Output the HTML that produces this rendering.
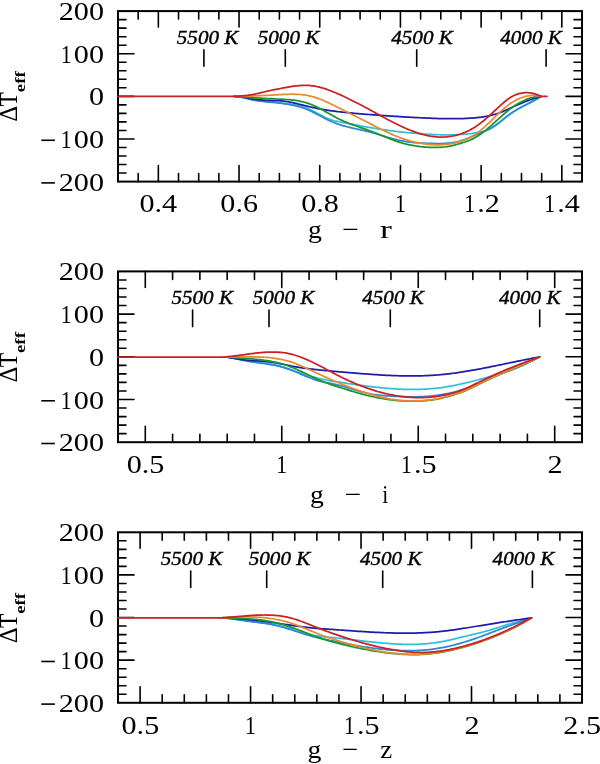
<!DOCTYPE html>
<html><head><meta charset="utf-8"><style>
html,body{margin:0;padding:0;background:#fff;}
svg{display:block;will-change:transform;}
text{fill:#000;}
</style></head><body>
<svg width="600" height="764" viewBox="0 0 600 764">
<rect width="600" height="764" fill="#fff"/>
<rect x="118.0" y="11.1" width="464.0" height="170.50" fill="none" stroke="#000" stroke-width="2.0"/>
<path d="M138.17,181.60v-8.0M138.17,11.10v8.0M158.35,181.60v-16.0M158.35,11.10v16.0M178.52,181.60v-8.0M178.52,11.10v8.0M198.70,181.60v-8.0M198.70,11.10v8.0M218.87,181.60v-8.0M218.87,11.10v8.0M239.04,181.60v-16.0M239.04,11.10v16.0M259.22,181.60v-8.0M259.22,11.10v8.0M279.39,181.60v-8.0M279.39,11.10v8.0M299.57,181.60v-8.0M299.57,11.10v8.0M319.74,181.60v-16.0M319.74,11.10v16.0M339.91,181.60v-8.0M339.91,11.10v8.0M360.09,181.60v-8.0M360.09,11.10v8.0M380.26,181.60v-8.0M380.26,11.10v8.0M400.43,181.60v-16.0M400.43,11.10v16.0M420.61,181.60v-8.0M420.61,11.10v8.0M440.78,181.60v-8.0M440.78,11.10v8.0M460.96,181.60v-8.0M460.96,11.10v8.0M481.13,181.60v-16.0M481.13,11.10v16.0M501.30,181.60v-8.0M501.30,11.10v8.0M521.48,181.60v-8.0M521.48,11.10v8.0M541.65,181.60v-8.0M541.65,11.10v8.0M561.83,181.60v-16.0M561.83,11.10v16.0M118.00,173.07h8.0M582.00,173.07h-8.0M118.00,164.55h8.0M582.00,164.55h-8.0M118.00,156.03h8.0M582.00,156.03h-8.0M118.00,147.50h8.0M582.00,147.50h-8.0M118.00,138.97h16.0M582.00,138.97h-16.0M118.00,130.45h8.0M582.00,130.45h-8.0M118.00,121.92h8.0M582.00,121.92h-8.0M118.00,113.40h8.0M582.00,113.40h-8.0M118.00,104.87h8.0M582.00,104.87h-8.0M118.00,96.35h16.0M582.00,96.35h-16.0M118.00,87.82h8.0M582.00,87.82h-8.0M118.00,79.30h8.0M582.00,79.30h-8.0M118.00,70.77h8.0M582.00,70.77h-8.0M118.00,62.25h8.0M582.00,62.25h-8.0M118.00,53.72h16.0M582.00,53.72h-16.0M118.00,45.20h8.0M582.00,45.20h-8.0M118.00,36.68h8.0M582.00,36.68h-8.0M118.00,28.15h8.0M582.00,28.15h-8.0M118.00,19.62h8.0M582.00,19.62h-8.0" stroke="#000" stroke-width="1.6" stroke-linecap="round" fill="none"/>
<rect x="118.0" y="271.4" width="464.0" height="170.80" fill="none" stroke="#000" stroke-width="2.0"/>
<path d="M145.29,442.20v-16.0M145.29,271.40v16.0M172.59,442.20v-8.0M172.59,271.40v8.0M199.88,442.20v-8.0M199.88,271.40v8.0M227.18,442.20v-8.0M227.18,271.40v8.0M254.47,442.20v-8.0M254.47,271.40v8.0M281.76,442.20v-16.0M281.76,271.40v16.0M309.06,442.20v-8.0M309.06,271.40v8.0M336.35,442.20v-8.0M336.35,271.40v8.0M363.65,442.20v-8.0M363.65,271.40v8.0M390.94,442.20v-8.0M390.94,271.40v8.0M418.24,442.20v-16.0M418.24,271.40v16.0M445.53,442.20v-8.0M445.53,271.40v8.0M472.82,442.20v-8.0M472.82,271.40v8.0M500.12,442.20v-8.0M500.12,271.40v8.0M527.41,442.20v-8.0M527.41,271.40v8.0M554.71,442.20v-16.0M554.71,271.40v16.0M118.00,433.66h8.0M582.00,433.66h-8.0M118.00,425.12h8.0M582.00,425.12h-8.0M118.00,416.58h8.0M582.00,416.58h-8.0M118.00,408.04h8.0M582.00,408.04h-8.0M118.00,399.50h16.0M582.00,399.50h-16.0M118.00,390.96h8.0M582.00,390.96h-8.0M118.00,382.42h8.0M582.00,382.42h-8.0M118.00,373.88h8.0M582.00,373.88h-8.0M118.00,365.34h8.0M582.00,365.34h-8.0M118.00,356.80h16.0M582.00,356.80h-16.0M118.00,348.26h8.0M582.00,348.26h-8.0M118.00,339.72h8.0M582.00,339.72h-8.0M118.00,331.18h8.0M582.00,331.18h-8.0M118.00,322.64h8.0M582.00,322.64h-8.0M118.00,314.10h16.0M582.00,314.10h-16.0M118.00,305.56h8.0M582.00,305.56h-8.0M118.00,297.02h8.0M582.00,297.02h-8.0M118.00,288.48h8.0M582.00,288.48h-8.0M118.00,279.94h8.0M582.00,279.94h-8.0" stroke="#000" stroke-width="1.6" stroke-linecap="round" fill="none"/>
<rect x="118.0" y="532.3" width="464.0" height="170.50" fill="none" stroke="#000" stroke-width="2.0"/>
<path d="M140.10,702.80v-16.0M140.10,532.30v16.0M162.19,702.80v-8.0M162.19,532.30v8.0M184.29,702.80v-8.0M184.29,532.30v8.0M206.38,702.80v-8.0M206.38,532.30v8.0M228.48,702.80v-8.0M228.48,532.30v8.0M250.57,702.80v-16.0M250.57,532.30v16.0M272.67,702.80v-8.0M272.67,532.30v8.0M294.76,702.80v-8.0M294.76,532.30v8.0M316.86,702.80v-8.0M316.86,532.30v8.0M338.95,702.80v-8.0M338.95,532.30v8.0M361.05,702.80v-16.0M361.05,532.30v16.0M383.14,702.80v-8.0M383.14,532.30v8.0M405.24,702.80v-8.0M405.24,532.30v8.0M427.33,702.80v-8.0M427.33,532.30v8.0M449.43,702.80v-8.0M449.43,532.30v8.0M471.52,702.80v-16.0M471.52,532.30v16.0M493.62,702.80v-8.0M493.62,532.30v8.0M515.71,702.80v-8.0M515.71,532.30v8.0M537.81,702.80v-8.0M537.81,532.30v8.0M559.90,702.80v-8.0M559.90,532.30v8.0M118.00,694.27h8.0M582.00,694.27h-8.0M118.00,685.75h8.0M582.00,685.75h-8.0M118.00,677.22h8.0M582.00,677.22h-8.0M118.00,668.70h8.0M582.00,668.70h-8.0M118.00,660.17h16.0M582.00,660.17h-16.0M118.00,651.65h8.0M582.00,651.65h-8.0M118.00,643.12h8.0M582.00,643.12h-8.0M118.00,634.60h8.0M582.00,634.60h-8.0M118.00,626.07h8.0M582.00,626.07h-8.0M118.00,617.55h16.0M582.00,617.55h-16.0M118.00,609.02h8.0M582.00,609.02h-8.0M118.00,600.50h8.0M582.00,600.50h-8.0M118.00,591.97h8.0M582.00,591.97h-8.0M118.00,583.45h8.0M582.00,583.45h-8.0M118.00,574.92h16.0M582.00,574.92h-16.0M118.00,566.40h8.0M582.00,566.40h-8.0M118.00,557.88h8.0M582.00,557.88h-8.0M118.00,549.35h8.0M582.00,549.35h-8.0M118.00,540.82h8.0M582.00,540.82h-8.0" stroke="#000" stroke-width="1.6" stroke-linecap="round" fill="none"/>
<text transform="translate(58.73,20.15) scale(1.170,1)" font-family='"Liberation Serif",serif' font-size="25.80">200</text>
<g transform="translate(58.73,62.77) scale(1.170,1)" font-family='"Liberation Serif",serif' font-size="25.80"><text transform="translate(6.45,0) scale(0.72,1) translate(-6.45,0)">1</text><text x="12.90">0</text><text x="25.80">0</text></g>
<text transform="translate(88.91,105.40) scale(1.170,1)" font-family='"Liberation Serif",serif' font-size="25.80">0</text>
<g transform="translate(58.73,148.02) scale(1.170,1)" font-family='"Liberation Serif",serif' font-size="25.80"><text transform="translate(6.45,0) scale(0.72,1) translate(-6.45,0)">1</text><text x="12.90">0</text><text x="25.80">0</text></g>
<path d="M41.3,140.28H54.9" stroke="#000" stroke-width="1.6"/>
<text transform="translate(58.73,190.65) scale(1.170,1)" font-family='"Liberation Serif",serif' font-size="25.80">200</text>
<path d="M41.3,182.90H54.9" stroke="#000" stroke-width="1.6"/>
<text transform="translate(139.40,212.26) scale(1.170,1)" font-family='"Liberation Serif",serif' font-size="25.80">0.4</text>
<text transform="translate(220.33,212.26) scale(1.170,1)" font-family='"Liberation Serif",serif' font-size="25.80">0.6</text>
<text transform="translate(301.17,212.26) scale(1.170,1)" font-family='"Liberation Serif",serif' font-size="25.80">0.8</text>
<g transform="translate(392.81,212.13) scale(1.170,1)" font-family='"Liberation Serif",serif' font-size="25.80"><text transform="translate(6.45,0) scale(0.72,1) translate(-6.45,0)">1</text></g>
<g transform="translate(462.11,212.13) scale(1.170,1)" font-family='"Liberation Serif",serif' font-size="25.80"><text transform="translate(6.45,0) scale(0.72,1) translate(-6.45,0)">1</text><text x="12.90">.</text><text x="19.35">2</text></g>
<g transform="translate(542.20,212.13) scale(1.170,1)" font-family='"Liberation Serif",serif' font-size="25.80"><text transform="translate(6.45,0) scale(0.72,1) translate(-6.45,0)">1</text><text x="12.90">.</text><text x="19.35">4</text></g>
<text transform="translate(307.95,237.50) scale(1.070,1)" font-family='"Liberation Serif",serif' font-size="26.00">g</text>
<text transform="translate(342.22,237.50) scale(1.141,1)" font-family='"Liberation Serif",serif' font-size="26.00">−</text>
<text transform="translate(380.09,237.50) scale(1.375,1)" font-family='"Liberation Serif",serif' font-size="26.00">r</text>
<text transform="translate(17.30,121.70) rotate(-90) scale(1.010,1)" font-family='"Liberation Serif",serif' font-size="24.70">Δ</text>
<text transform="translate(17.30,106.47) rotate(-90) scale(0.943,1)" font-family='"Liberation Serif",serif' font-size="24.89">T</text>
<text transform="translate(24.75,92.16) rotate(-90) scale(1.222,1)" font-family='"Liberation Serif",serif' font-size="15.38" font-weight="bold">eff</text>
<text transform="translate(176.78,43.60) scale(1.065,1)" font-family='"Liberation Serif",serif' font-size="19.85" font-style="italic" stroke="#000" stroke-width="0.4">5500 K</text>
<path d="M203.90,49.80V66.30" stroke="#000" stroke-width="1.6" stroke-linecap="round"/>
<text transform="translate(257.68,43.60) scale(1.065,1)" font-family='"Liberation Serif",serif' font-size="19.85" font-style="italic" stroke="#000" stroke-width="0.4">5000 K</text>
<path d="M285.30,49.80V66.30" stroke="#000" stroke-width="1.6" stroke-linecap="round"/>
<text transform="translate(391.19,43.60) scale(1.065,1)" font-family='"Liberation Serif",serif' font-size="19.85" font-style="italic" stroke="#000" stroke-width="0.4">4500 K</text>
<path d="M416.70,49.80V66.30" stroke="#000" stroke-width="1.6" stroke-linecap="round"/>
<text transform="translate(500.19,43.60) scale(1.065,1)" font-family='"Liberation Serif",serif' font-size="19.85" font-style="italic" stroke="#000" stroke-width="0.4">4000 K</text>
<path d="M546.10,49.80V66.30" stroke="#000" stroke-width="1.6" stroke-linecap="round"/>
<path d="M234.0,96.35 235.5,96.35 237.0,96.58 238.5,96.72 240.0,96.91 241.5,97.14 243.0,97.41 244.5,97.73 246.0,98.11 247.5,98.52 249.0,98.92 250.5,99.30 252.0,99.62 253.5,99.90 255.0,100.13 256.5,100.33 258.0,100.50 259.5,100.64 261.0,100.77 262.5,100.88 264.0,100.99 265.5,101.10 267.0,101.21 268.5,101.34 270.0,101.48 271.5,101.65 273.0,101.84 274.5,102.04 276.0,102.25 277.5,102.46 279.0,102.68 280.5,102.89 282.0,103.10 283.5,103.30 285.0,103.51 286.5,103.71 288.0,103.92 289.5,104.15 291.0,104.38 292.5,104.63 294.0,104.89 295.5,105.18 297.0,105.49 298.5,105.83 300.0,106.19 301.5,106.59 303.0,107.02 304.5,107.50 306.0,108.01 307.5,108.57 309.0,109.17 310.5,109.83 312.0,110.53 313.5,111.27 315.0,112.05 316.5,112.84 318.0,113.65 319.5,114.46 321.0,115.26 322.5,116.05 324.0,116.81 325.5,117.54 327.0,118.22 328.5,118.85 330.0,119.42 331.5,119.92 333.0,120.36 334.5,120.75 336.0,121.09 337.5,121.41 339.0,121.72 340.5,122.01 342.0,122.30 343.5,122.60 345.0,122.89 346.5,123.18 348.0,123.47 349.5,123.76 351.0,124.05 352.5,124.34 354.0,124.63 355.5,124.91 357.0,125.19 358.5,125.47 360.0,125.75 361.5,126.02 363.0,126.29 364.5,126.56 366.0,126.83 367.5,127.09 369.0,127.35 370.5,127.61 372.0,127.86 373.5,128.10 375.0,128.35 376.5,128.59 378.0,128.82 379.5,129.05 381.0,129.28 382.5,129.51 384.0,129.73 385.5,129.94 387.0,130.15 388.5,130.36 390.0,130.56 391.5,130.76 393.0,130.96 394.5,131.15 396.0,131.33 397.5,131.51 399.0,131.69 400.5,131.86 402.0,132.03 403.5,132.20 405.0,132.36 406.5,132.51 408.0,132.67 409.5,132.81 411.0,132.95 412.5,133.09 414.0,133.23 415.5,133.35 417.0,133.48 418.5,133.60 420.0,133.71 421.5,133.82 423.0,133.93 424.5,134.03 426.0,134.12 427.5,134.21 429.0,134.30 430.5,134.38 432.0,134.46 433.5,134.53 435.0,134.60 436.5,134.66 438.0,134.71 439.5,134.75 441.0,134.79 442.5,134.83 444.0,134.85 445.5,134.86 447.0,134.87 448.5,134.87 450.0,134.86 451.5,134.84 453.0,134.80 454.5,134.76 456.0,134.71 457.5,134.65 459.0,134.57 460.5,134.48 462.0,134.38 463.5,134.27 465.0,134.15 466.5,134.01 468.0,133.86 469.5,133.69 471.0,133.51 472.5,133.31 474.0,133.10 475.5,132.87 477.0,132.63 478.5,132.37 480.0,132.10 481.5,131.80 483.0,131.47 484.5,131.09 486.0,130.64 487.5,130.11 489.0,129.47 490.5,128.72 492.0,127.84 493.5,126.86 495.0,125.81 496.5,124.69 498.0,123.53 499.5,122.33 501.0,121.11 502.5,119.87 504.0,118.64 505.5,117.42 507.0,116.23 508.5,115.07 510.0,113.95 511.5,112.90 513.0,111.90 514.5,110.94 516.0,110.03 517.5,109.16 519.0,108.32 520.5,107.51 522.0,106.72 523.5,105.95 525.0,105.19 526.5,104.43 528.0,103.68 529.5,102.92 531.0,102.15 532.5,101.37 534.0,100.57 535.5,99.74 537.0,98.88 538.5,97.99 540.0,97.05 541.0,96.40" fill="none" stroke="#34c0d8" stroke-width="1.75" stroke-linejoin="round" stroke-linecap="round"/>
<path d="M234.0,96.35 235.5,96.35 237.0,96.62 238.5,96.79 240.0,96.99 241.5,97.22 243.0,97.50 244.5,97.82 246.0,98.18 247.5,98.58 249.0,98.98 250.5,99.36 252.0,99.71 253.5,100.03 255.0,100.32 256.5,100.58 258.0,100.83 259.5,101.05 261.0,101.25 262.5,101.44 264.0,101.61 265.5,101.77 267.0,101.92 268.5,102.06 270.0,102.20 271.5,102.34 273.0,102.47 274.5,102.61 276.0,102.75 277.5,102.89 279.0,103.05 280.5,103.21 282.0,103.39 283.5,103.58 285.0,103.79 286.5,104.01 288.0,104.26 289.5,104.52 291.0,104.80 292.5,105.10 294.0,105.43 295.5,105.78 297.0,106.15 298.5,106.56 300.0,106.99 301.5,107.45 303.0,107.94 304.5,108.47 306.0,109.03 307.5,109.62 309.0,110.25 310.5,110.92 312.0,111.62 313.5,112.36 315.0,113.11 316.5,113.89 318.0,114.69 319.5,115.49 321.0,116.29 322.5,117.10 324.0,117.89 325.5,118.67 327.0,119.43 328.5,120.17 330.0,120.87 331.5,121.54 333.0,122.18 334.5,122.78 336.0,123.35 337.5,123.89 339.0,124.41 340.5,124.89 342.0,125.36 343.5,125.79 345.0,126.21 346.5,126.61 348.0,126.99 349.5,127.36 351.0,127.72 352.5,128.07 354.0,128.40 355.5,128.73 357.0,129.06 358.5,129.39 360.0,129.72 361.5,130.04 363.0,130.38 364.5,130.72 366.0,131.06 367.5,131.42 369.0,131.80 370.5,132.18 372.0,132.59 373.5,133.00 375.0,133.43 376.5,133.87 378.0,134.31 379.5,134.76 381.0,135.22 382.5,135.67 384.0,136.13 385.5,136.58 387.0,137.03 388.5,137.47 390.0,137.91 391.5,138.33 393.0,138.75 394.5,139.14 396.0,139.52 397.5,139.89 399.0,140.23 400.5,140.55 402.0,140.85 403.5,141.12 405.0,141.38 406.5,141.61 408.0,141.82 409.5,142.02 411.0,142.20 412.5,142.36 414.0,142.51 415.5,142.64 417.0,142.76 418.5,142.87 420.0,142.97 421.5,143.05 423.0,143.13 424.5,143.20 426.0,143.26 427.5,143.32 429.0,143.37 430.5,143.41 432.0,143.46 433.5,143.49 435.0,143.52 436.5,143.54 438.0,143.54 439.5,143.54 441.0,143.51 442.5,143.47 444.0,143.41 445.5,143.33 447.0,143.22 448.5,143.08 450.0,142.92 451.5,142.73 453.0,142.51 454.5,142.25 456.0,141.96 457.5,141.63 459.0,141.26 460.5,140.85 462.0,140.39 463.5,139.90 465.0,139.38 466.5,138.82 468.0,138.24 469.5,137.63 471.0,137.01 472.5,136.37 474.0,135.72 475.5,135.06 477.0,134.40 478.5,133.74 480.0,133.08 481.5,132.43 483.0,131.78 484.5,131.12 486.0,130.44 487.5,129.74 489.0,129.00 490.5,128.22 492.0,127.40 493.5,126.52 495.0,125.57 496.5,124.55 498.0,123.47 499.5,122.34 501.0,121.17 502.5,119.99 504.0,118.79 505.5,117.60 507.0,116.42 508.5,115.27 510.0,114.16 511.5,113.10 513.0,112.10 514.5,111.13 516.0,110.21 517.5,109.32 519.0,108.46 520.5,107.63 522.0,106.82 523.5,106.03 525.0,105.25 526.5,104.47 528.0,103.70 529.5,102.92 531.0,102.14 532.5,101.35 534.0,100.54 535.5,99.71 537.0,98.85 538.5,97.96 540.0,97.04 541.0,96.40" fill="none" stroke="#2a8ad4" stroke-width="1.75" stroke-linejoin="round" stroke-linecap="round"/>
<path d="M234.0,96.35 235.5,96.35 237.0,96.55 238.5,96.69 240.0,96.86 241.5,97.04 243.0,97.26 244.5,97.49 246.0,97.75 247.5,98.02 249.0,98.29 250.5,98.56 252.0,98.80 253.5,99.03 255.0,99.25 256.5,99.44 258.0,99.62 259.5,99.78 261.0,99.93 262.5,100.06 264.0,100.17 265.5,100.26 267.0,100.34 268.5,100.41 270.0,100.45 271.5,100.48 273.0,100.51 274.5,100.53 276.0,100.56 277.5,100.61 279.0,100.67 280.5,100.77 282.0,100.91 283.5,101.08 285.0,101.27 286.5,101.50 288.0,101.75 289.5,102.03 291.0,102.32 292.5,102.64 294.0,102.97 295.5,103.31 297.0,103.67 298.5,104.04 300.0,104.41 301.5,104.78 303.0,105.16 304.5,105.54 306.0,105.91 307.5,106.28 309.0,106.64 310.5,106.99 312.0,107.33 313.5,107.65 315.0,107.97 316.5,108.27 318.0,108.57 319.5,108.85 321.0,109.12 322.5,109.39 324.0,109.64 325.5,109.89 327.0,110.12 328.5,110.35 330.0,110.57 331.5,110.79 333.0,110.99 334.5,111.19 336.0,111.38 337.5,111.57 339.0,111.75 340.5,111.92 342.0,112.09 343.5,112.25 345.0,112.41 346.5,112.56 348.0,112.71 349.5,112.85 351.0,112.99 352.5,113.13 354.0,113.26 355.5,113.40 357.0,113.53 358.5,113.65 360.0,113.78 361.5,113.90 363.0,114.03 364.5,114.15 366.0,114.27 367.5,114.39 369.0,114.50 370.5,114.62 372.0,114.73 373.5,114.85 375.0,114.96 376.5,115.07 378.0,115.18 379.5,115.29 381.0,115.39 382.5,115.50 384.0,115.60 385.5,115.71 387.0,115.81 388.5,115.91 390.0,116.01 391.5,116.11 393.0,116.20 394.5,116.30 396.0,116.39 397.5,116.49 399.0,116.58 400.5,116.67 402.0,116.76 403.5,116.85 405.0,116.93 406.5,117.02 408.0,117.11 409.5,117.19 411.0,117.27 412.5,117.35 414.0,117.44 415.5,117.51 417.0,117.59 418.5,117.67 420.0,117.75 421.5,117.82 423.0,117.90 424.5,117.97 426.0,118.04 427.5,118.11 429.0,118.17 430.5,118.24 432.0,118.30 433.5,118.36 435.0,118.41 436.5,118.46 438.0,118.51 439.5,118.56 441.0,118.60 442.5,118.63 444.0,118.66 445.5,118.69 447.0,118.71 448.5,118.72 450.0,118.73 451.5,118.74 453.0,118.73 454.5,118.72 456.0,118.71 457.5,118.69 459.0,118.66 460.5,118.62 462.0,118.57 463.5,118.52 465.0,118.46 466.5,118.39 468.0,118.32 469.5,118.23 471.0,118.13 472.5,118.03 474.0,117.91 475.5,117.78 477.0,117.64 478.5,117.48 480.0,117.30 481.5,117.11 483.0,116.89 484.5,116.65 486.0,116.40 487.5,116.11 489.0,115.80 490.5,115.47 492.0,115.10 493.5,114.71 495.0,114.28 496.5,113.82 498.0,113.33 499.5,112.80 501.0,112.24 502.5,111.64 504.0,111.01 505.5,110.36 507.0,109.69 508.5,109.00 510.0,108.31 511.5,107.61 513.0,106.91 514.5,106.22 516.0,105.54 517.5,104.87 519.0,104.22 520.5,103.58 522.0,102.95 523.5,102.34 525.0,101.74 526.5,101.16 528.0,100.59 529.5,100.04 531.0,99.51 532.5,98.99 534.0,98.49 535.5,98.01 537.0,97.55 538.5,97.10 540.0,96.68 541.0,96.40" fill="none" stroke="#1e1cae" stroke-width="1.75" stroke-linejoin="round" stroke-linecap="round"/>
<path d="M234.0,96.35 235.5,96.35 237.0,96.53 238.5,96.62 240.0,96.72 241.5,96.83 243.0,96.95 244.5,97.07 246.0,97.19 247.5,97.31 249.0,97.43 250.5,97.54 252.0,97.65 253.5,97.76 255.0,97.85 256.5,97.95 258.0,98.04 259.5,98.12 261.0,98.20 262.5,98.28 264.0,98.36 265.5,98.43 267.0,98.50 268.5,98.57 270.0,98.64 271.5,98.71 273.0,98.78 274.5,98.85 276.0,98.93 277.5,99.00 279.0,99.07 280.5,99.15 282.0,99.22 283.5,99.31 285.0,99.40 286.5,99.50 288.0,99.61 289.5,99.74 291.0,99.88 292.5,100.04 294.0,100.23 295.5,100.43 297.0,100.66 298.5,100.92 300.0,101.20 301.5,101.52 303.0,101.87 304.5,102.26 306.0,102.69 307.5,103.16 309.0,103.67 310.5,104.22 312.0,104.82 313.5,105.46 315.0,106.14 316.5,106.85 318.0,107.60 319.5,108.36 321.0,109.15 322.5,109.96 324.0,110.78 325.5,111.62 327.0,112.46 328.5,113.30 330.0,114.14 331.5,114.98 333.0,115.81 334.5,116.63 336.0,117.43 337.5,118.21 339.0,118.97 340.5,119.70 342.0,120.40 343.5,121.07 345.0,121.72 346.5,122.34 348.0,122.95 349.5,123.53 351.0,124.10 352.5,124.66 354.0,125.20 355.5,125.74 357.0,126.26 358.5,126.79 360.0,127.31 361.5,127.82 363.0,128.34 364.5,128.87 366.0,129.40 367.5,129.94 369.0,130.49 370.5,131.05 372.0,131.63 373.5,132.21 375.0,132.81 376.5,133.42 378.0,134.03 379.5,134.64 381.0,135.26 382.5,135.87 384.0,136.49 385.5,137.10 387.0,137.71 388.5,138.30 390.0,138.89 391.5,139.47 393.0,140.03 394.5,140.58 396.0,141.11 397.5,141.62 399.0,142.11 400.5,142.58 402.0,143.02 403.5,143.44 405.0,143.83 406.5,144.20 408.0,144.55 409.5,144.88 411.0,145.19 412.5,145.47 414.0,145.73 415.5,145.98 417.0,146.20 418.5,146.40 420.0,146.59 421.5,146.75 423.0,146.90 424.5,147.03 426.0,147.14 427.5,147.23 429.0,147.31 430.5,147.37 432.0,147.42 433.5,147.44 435.0,147.45 436.5,147.44 438.0,147.40 439.5,147.34 441.0,147.26 442.5,147.14 444.0,147.00 445.5,146.83 447.0,146.62 448.5,146.39 450.0,146.11 451.5,145.80 453.0,145.46 454.5,145.09 456.0,144.70 457.5,144.28 459.0,143.85 460.5,143.40 462.0,142.94 463.5,142.46 465.0,141.96 466.5,141.42 468.0,140.86 469.5,140.25 471.0,139.60 472.5,138.90 474.0,138.14 475.5,137.32 477.0,136.44 478.5,135.49 480.0,134.49 481.5,133.42 483.0,132.31 484.5,131.14 486.0,129.93 487.5,128.69 489.0,127.41 490.5,126.11 492.0,124.78 493.5,123.44 495.0,122.09 496.5,120.73 498.0,119.37 499.5,118.02 501.0,116.67 502.5,115.34 504.0,114.03 505.5,112.75 507.0,111.49 508.5,110.28 510.0,109.10 511.5,107.97 513.0,106.89 514.5,105.85 516.0,104.86 517.5,103.92 519.0,103.04 520.5,102.20 522.0,101.42 523.5,100.69 525.0,100.02 526.5,99.40 528.0,98.83 529.5,98.32 531.0,97.87 532.5,97.48 534.0,97.15 535.5,96.87 537.0,96.66 538.5,96.51 540.0,96.43 541.0,96.40" fill="none" stroke="#1a9630" stroke-width="1.75" stroke-linejoin="round" stroke-linecap="round"/>
<path d="M234.0,96.35 235.5,96.35 237.0,96.33 238.5,96.32 240.0,96.30 241.5,96.28 243.0,96.25 244.5,96.22 246.0,96.19 247.5,96.15 249.0,96.11 250.5,96.07 252.0,96.02 253.5,95.96 255.0,95.91 256.5,95.84 258.0,95.78 259.5,95.71 261.0,95.64 262.5,95.57 264.0,95.49 265.5,95.42 267.0,95.34 268.5,95.26 270.0,95.18 271.5,95.09 273.0,95.01 274.5,94.93 276.0,94.85 277.5,94.77 279.0,94.69 280.5,94.61 282.0,94.53 283.5,94.46 285.0,94.39 286.5,94.33 288.0,94.29 289.5,94.25 291.0,94.23 292.5,94.22 294.0,94.23 295.5,94.26 297.0,94.32 298.5,94.40 300.0,94.50 301.5,94.63 303.0,94.80 304.5,94.99 306.0,95.22 307.5,95.49 309.0,95.79 310.5,96.13 312.0,96.52 313.5,96.94 315.0,97.40 316.5,97.89 318.0,98.42 319.5,98.97 321.0,99.56 322.5,100.17 324.0,100.80 325.5,101.46 327.0,102.14 328.5,102.83 330.0,103.54 331.5,104.26 333.0,104.99 334.5,105.73 336.0,106.48 337.5,107.23 339.0,107.99 340.5,108.74 342.0,109.50 343.5,110.25 345.0,111.01 346.5,111.76 348.0,112.51 349.5,113.27 351.0,114.02 352.5,114.77 354.0,115.52 355.5,116.28 357.0,117.03 358.5,117.78 360.0,118.54 361.5,119.30 363.0,120.05 364.5,120.81 366.0,121.57 367.5,122.33 369.0,123.09 370.5,123.86 372.0,124.63 373.5,125.39 375.0,126.16 376.5,126.92 378.0,127.68 379.5,128.43 381.0,129.18 382.5,129.93 384.0,130.66 385.5,131.39 387.0,132.10 388.5,132.80 390.0,133.49 391.5,134.17 393.0,134.83 394.5,135.47 396.0,136.10 397.5,136.70 399.0,137.29 400.5,137.85 402.0,138.40 403.5,138.92 405.0,139.41 406.5,139.89 408.0,140.35 409.5,140.78 411.0,141.19 412.5,141.58 414.0,141.94 415.5,142.29 417.0,142.61 418.5,142.91 420.0,143.19 421.5,143.45 423.0,143.68 424.5,143.90 426.0,144.09 427.5,144.26 429.0,144.41 430.5,144.54 432.0,144.65 433.5,144.74 435.0,144.80 436.5,144.83 438.0,144.85 439.5,144.83 441.0,144.79 442.5,144.72 444.0,144.63 445.5,144.50 447.0,144.34 448.5,144.15 450.0,143.93 451.5,143.68 453.0,143.39 454.5,143.07 456.0,142.71 457.5,142.32 459.0,141.88 460.5,141.41 462.0,140.90 463.5,140.35 465.0,139.76 466.5,139.11 468.0,138.42 469.5,137.68 471.0,136.89 472.5,136.04 474.0,135.13 475.5,134.16 477.0,133.14 478.5,132.04 480.0,130.88 481.5,129.66 483.0,128.37 484.5,127.03 486.0,125.65 487.5,124.23 489.0,122.79 490.5,121.32 492.0,119.85 493.5,118.37 495.0,116.90 496.5,115.44 498.0,114.00 499.5,112.59 501.0,111.21 502.5,109.86 504.0,108.55 505.5,107.29 507.0,106.07 508.5,104.92 510.0,103.82 511.5,102.79 513.0,101.83 514.5,100.93 516.0,100.10 517.5,99.34 519.0,98.65 520.5,98.02 522.0,97.46 523.5,96.97 525.0,96.55 526.5,96.20 528.0,95.92 529.5,95.70 531.0,95.56 532.5,95.49 534.0,95.48 535.5,95.55 537.0,95.69 538.5,95.90 540.0,96.18 541.0,96.40" fill="none" stroke="#e88a32" stroke-width="1.75" stroke-linejoin="round" stroke-linecap="round"/>
<path d="M118.0,96.35 234.0,96.35 235.5,96.35 237.0,96.24 238.5,96.17 240.0,96.09 241.5,95.98 243.0,95.87 244.5,95.72 246.0,95.56 247.5,95.38 249.0,95.17 250.5,94.93 252.0,94.66 253.5,94.38 255.0,94.07 256.5,93.75 258.0,93.41 259.5,93.06 261.0,92.70 262.5,92.34 264.0,91.98 265.5,91.62 267.0,91.26 268.5,90.92 270.0,90.58 271.5,90.26 273.0,89.95 274.5,89.65 276.0,89.36 277.5,89.07 279.0,88.79 280.5,88.50 282.0,88.22 283.5,87.93 285.0,87.65 286.5,87.38 288.0,87.11 289.5,86.85 291.0,86.61 292.5,86.38 294.0,86.17 295.5,85.97 297.0,85.80 298.5,85.65 300.0,85.53 301.5,85.44 303.0,85.38 304.5,85.35 306.0,85.35 307.5,85.39 309.0,85.48 310.5,85.60 312.0,85.77 313.5,85.97 315.0,86.22 316.5,86.51 318.0,86.83 319.5,87.19 321.0,87.58 322.5,88.00 324.0,88.45 325.5,88.93 327.0,89.43 328.5,89.96 330.0,90.52 331.5,91.09 333.0,91.69 334.5,92.31 336.0,92.94 337.5,93.58 339.0,94.25 340.5,94.92 342.0,95.60 343.5,96.30 345.0,97.00 346.5,97.72 348.0,98.44 349.5,99.17 351.0,99.91 352.5,100.66 354.0,101.42 355.5,102.18 357.0,102.96 358.5,103.73 360.0,104.52 361.5,105.31 363.0,106.10 364.5,106.91 366.0,107.71 367.5,108.52 369.0,109.33 370.5,110.15 372.0,110.97 373.5,111.80 375.0,112.62 376.5,113.44 378.0,114.27 379.5,115.09 381.0,115.91 382.5,116.73 384.0,117.54 385.5,118.35 387.0,119.15 388.5,119.95 390.0,120.74 391.5,121.52 393.0,122.29 394.5,123.06 396.0,123.81 397.5,124.55 399.0,125.28 400.5,125.99 402.0,126.69 403.5,127.37 405.0,128.04 406.5,128.69 408.0,129.33 409.5,129.94 411.0,130.54 412.5,131.12 414.0,131.67 415.5,132.20 417.0,132.71 418.5,133.20 420.0,133.66 421.5,134.10 423.0,134.50 424.5,134.89 426.0,135.24 427.5,135.57 429.0,135.86 430.5,136.13 432.0,136.36 433.5,136.56 435.0,136.73 436.5,136.87 438.0,136.97 439.5,137.03 441.0,137.07 442.5,137.06 444.0,137.02 445.5,136.95 447.0,136.83 448.5,136.68 450.0,136.49 451.5,136.25 453.0,135.98 454.5,135.67 456.0,135.32 457.5,134.92 459.0,134.49 460.5,134.00 462.0,133.48 463.5,132.91 465.0,132.30 466.5,131.64 468.0,130.93 469.5,130.18 471.0,129.38 472.5,128.53 474.0,127.63 475.5,126.69 477.0,125.69 478.5,124.65 480.0,123.55 481.5,122.40 483.0,121.20 484.5,119.97 486.0,118.69 487.5,117.38 489.0,116.04 490.5,114.68 492.0,113.29 493.5,111.90 495.0,110.49 496.5,109.07 498.0,107.66 499.5,106.27 501.0,104.90 502.5,103.56 504.0,102.27 505.5,101.03 507.0,99.86 508.5,98.76 510.0,97.75 511.5,96.84 513.0,96.01 514.5,95.28 516.0,94.65 517.5,94.10 519.0,93.64 520.5,93.27 522.0,92.99 523.5,92.79 525.0,92.68 526.5,92.65 528.0,92.70 529.5,92.84 531.0,93.05 532.5,93.34 534.0,93.71 535.5,94.15 537.0,94.67 538.5,95.26 540.0,95.92 541.0,96.40 547.0,96.40" fill="none" stroke="#cc2024" stroke-width="1.75" stroke-linejoin="round" stroke-linecap="round"/>
<text transform="translate(58.73,280.45) scale(1.170,1)" font-family='"Liberation Serif",serif' font-size="25.80">200</text>
<g transform="translate(58.73,323.15) scale(1.170,1)" font-family='"Liberation Serif",serif' font-size="25.80"><text transform="translate(6.45,0) scale(0.72,1) translate(-6.45,0)">1</text><text x="12.90">0</text><text x="25.80">0</text></g>
<text transform="translate(88.91,365.85) scale(1.170,1)" font-family='"Liberation Serif",serif' font-size="25.80">0</text>
<g transform="translate(58.73,408.55) scale(1.170,1)" font-family='"Liberation Serif",serif' font-size="25.80"><text transform="translate(6.45,0) scale(0.72,1) translate(-6.45,0)">1</text><text x="12.90">0</text><text x="25.80">0</text></g>
<path d="M41.3,400.80H54.9" stroke="#000" stroke-width="1.6"/>
<text transform="translate(58.73,451.25) scale(1.170,1)" font-family='"Liberation Serif",serif' font-size="25.80">200</text>
<path d="M41.3,443.50H54.9" stroke="#000" stroke-width="1.6"/>
<text transform="translate(126.73,472.86) scale(1.170,1)" font-family='"Liberation Serif",serif' font-size="25.80">0.5</text>
<g transform="translate(274.14,472.73) scale(1.170,1)" font-family='"Liberation Serif",serif' font-size="25.80"><text transform="translate(6.45,0) scale(0.72,1) translate(-6.45,0)">1</text></g>
<g transform="translate(398.99,472.73) scale(1.170,1)" font-family='"Liberation Serif",serif' font-size="25.80"><text transform="translate(6.45,0) scale(0.72,1) translate(-6.45,0)">1</text><text x="12.90">.</text><text x="19.35">5</text></g>
<text transform="translate(547.61,472.73) scale(1.170,1)" font-family='"Liberation Serif",serif' font-size="25.80">2</text>
<text transform="translate(310.06,502.50) scale(1.061,1)" font-family='"Liberation Serif",serif' font-size="26.00">g</text>
<text transform="translate(344.83,502.50) scale(1.133,1)" font-family='"Liberation Serif",serif' font-size="26.00">−</text>
<text transform="translate(382.37,502.50) scale(0.833,1)" font-family='"Liberation Serif",serif' font-size="26.00">i</text>
<text transform="translate(17.30,382.50) rotate(-90) scale(1.010,1)" font-family='"Liberation Serif",serif' font-size="24.70">Δ</text>
<text transform="translate(17.30,367.27) rotate(-90) scale(0.943,1)" font-family='"Liberation Serif",serif' font-size="24.89">T</text>
<text transform="translate(24.75,352.96) rotate(-90) scale(1.222,1)" font-family='"Liberation Serif",serif' font-size="15.38" font-weight="bold">eff</text>
<text transform="translate(171.38,303.90) scale(1.065,1)" font-family='"Liberation Serif",serif' font-size="19.85" font-style="italic" stroke="#000" stroke-width="0.4">5500 K</text>
<path d="M192.60,310.10V326.60" stroke="#000" stroke-width="1.6" stroke-linecap="round"/>
<text transform="translate(252.68,303.90) scale(1.065,1)" font-family='"Liberation Serif",serif' font-size="19.85" font-style="italic" stroke="#000" stroke-width="0.4">5000 K</text>
<path d="M269.00,310.10V326.60" stroke="#000" stroke-width="1.6" stroke-linecap="round"/>
<text transform="translate(362.19,303.90) scale(1.065,1)" font-family='"Liberation Serif",serif' font-size="19.85" font-style="italic" stroke="#000" stroke-width="0.4">4500 K</text>
<path d="M390.30,310.10V326.60" stroke="#000" stroke-width="1.6" stroke-linecap="round"/>
<text transform="translate(498.89,303.90) scale(1.065,1)" font-family='"Liberation Serif",serif' font-size="19.85" font-style="italic" stroke="#000" stroke-width="0.4">4000 K</text>
<path d="M539.70,310.10V326.60" stroke="#000" stroke-width="1.6" stroke-linecap="round"/>
<path d="M224.0,357.00 225.5,357.00 227.0,357.16 228.5,357.31 230.0,357.50 231.5,357.74 233.0,358.00 234.5,358.29 236.0,358.59 237.5,358.91 239.0,359.24 240.5,359.57 242.0,359.89 243.5,360.20 245.0,360.50 246.5,360.79 248.0,361.06 249.5,361.32 251.0,361.55 252.5,361.77 254.0,361.97 255.5,362.14 257.0,362.30 258.5,362.43 260.0,362.56 261.5,362.69 263.0,362.82 264.5,362.96 266.0,363.11 267.5,363.29 269.0,363.50 270.5,363.74 272.0,364.02 273.5,364.34 275.0,364.69 276.5,365.08 278.0,365.49 279.5,365.92 281.0,366.38 282.5,366.86 284.0,367.35 285.5,367.85 287.0,368.36 288.5,368.88 290.0,369.40 291.5,369.93 293.0,370.45 294.5,370.97 296.0,371.49 297.5,372.01 299.0,372.52 300.5,373.02 302.0,373.52 303.5,374.02 305.0,374.50 306.5,374.98 308.0,375.45 309.5,375.90 311.0,376.35 312.5,376.78 314.0,377.20 315.5,377.60 317.0,377.99 318.5,378.36 320.0,378.72 321.5,379.06 323.0,379.38 324.5,379.69 326.0,379.98 327.5,380.26 329.0,380.53 330.5,380.79 332.0,381.04 333.5,381.28 335.0,381.52 336.5,381.75 338.0,381.98 339.5,382.20 341.0,382.43 342.5,382.65 344.0,382.88 345.5,383.10 347.0,383.32 348.5,383.55 350.0,383.77 351.5,383.99 353.0,384.20 354.5,384.42 356.0,384.63 357.5,384.84 359.0,385.05 360.5,385.26 362.0,385.46 363.5,385.66 365.0,385.86 366.5,386.06 368.0,386.25 369.5,386.43 371.0,386.62 372.5,386.80 374.0,386.97 375.5,387.14 377.0,387.31 378.5,387.47 380.0,387.63 381.5,387.78 383.0,387.93 384.5,388.07 386.0,388.20 387.5,388.33 389.0,388.46 390.5,388.57 392.0,388.68 393.5,388.79 395.0,388.89 396.5,388.98 398.0,389.06 399.5,389.14 401.0,389.21 402.5,389.27 404.0,389.32 405.5,389.37 407.0,389.41 408.5,389.43 410.0,389.45 411.5,389.47 413.0,389.47 414.5,389.46 416.0,389.45 417.5,389.42 419.0,389.39 420.5,389.34 422.0,389.29 423.5,389.23 425.0,389.15 426.5,389.07 428.0,388.97 429.5,388.86 431.0,388.74 432.5,388.61 434.0,388.47 435.5,388.32 437.0,388.16 438.5,387.98 440.0,387.79 441.5,387.59 443.0,387.38 444.5,387.16 446.0,386.92 447.5,386.67 449.0,386.42 450.5,386.15 452.0,385.87 453.5,385.59 455.0,385.29 456.5,384.98 458.0,384.67 459.5,384.35 461.0,384.02 462.5,383.68 464.0,383.34 465.5,382.99 467.0,382.63 468.5,382.27 470.0,381.90 471.5,381.52 473.0,381.14 474.5,380.76 476.0,380.37 477.5,379.98 479.0,379.58 480.5,379.18 482.0,378.78 483.5,378.37 485.0,377.97 486.5,377.56 488.0,377.14 489.5,376.73 491.0,376.32 492.5,375.90 494.0,375.49 495.5,375.06 497.0,374.64 498.5,374.20 500.0,373.76 501.5,373.31 503.0,372.85 504.5,372.38 506.0,371.90 507.5,371.40 509.0,370.89 510.5,370.37 512.0,369.82 513.5,369.26 515.0,368.68 516.5,368.07 518.0,367.45 519.5,366.80 521.0,366.13 522.5,365.43 524.0,364.72 525.5,363.99 527.0,363.25 528.5,362.50 530.0,361.74 531.5,360.98 533.0,360.22 534.5,359.46 536.0,358.71 537.5,357.97 539.0,357.24 539.5,357.00" fill="none" stroke="#34c0d8" stroke-width="1.75" stroke-linejoin="round" stroke-linecap="round"/>
<path d="M224.0,357.00 225.5,357.00 227.0,357.21 228.5,357.38 230.0,357.59 231.5,357.83 233.0,358.10 234.5,358.39 236.0,358.70 237.5,359.02 239.0,359.34 240.5,359.67 242.0,359.98 243.5,360.29 245.0,360.58 246.5,360.87 248.0,361.14 249.5,361.41 251.0,361.67 252.5,361.92 254.0,362.16 255.5,362.39 257.0,362.61 258.5,362.83 260.0,363.05 261.5,363.26 263.0,363.46 264.5,363.66 266.0,363.87 267.5,364.08 269.0,364.31 270.5,364.55 272.0,364.81 273.5,365.09 275.0,365.40 276.5,365.72 278.0,366.07 279.5,366.44 281.0,366.83 282.5,367.25 284.0,367.69 285.5,368.15 287.0,368.64 288.5,369.15 290.0,369.68 291.5,370.24 293.0,370.83 294.5,371.43 296.0,372.04 297.5,372.67 299.0,373.31 300.5,373.95 302.0,374.59 303.5,375.23 305.0,375.87 306.5,376.50 308.0,377.12 309.5,377.72 311.0,378.30 312.5,378.87 314.0,379.40 315.5,379.91 317.0,380.39 318.5,380.83 320.0,381.24 321.5,381.60 323.0,381.93 324.5,382.24 326.0,382.53 327.5,382.81 329.0,383.09 330.5,383.39 332.0,383.69 333.5,384.01 335.0,384.35 336.5,384.70 338.0,385.06 339.5,385.44 341.0,385.84 342.5,386.25 344.0,386.68 345.5,387.11 347.0,387.55 348.5,388.00 350.0,388.45 351.5,388.91 353.0,389.36 354.5,389.81 356.0,390.26 357.5,390.70 359.0,391.13 360.5,391.55 362.0,391.96 363.5,392.35 365.0,392.72 366.5,393.08 368.0,393.42 369.5,393.73 371.0,394.02 372.5,394.28 374.0,394.52 375.5,394.73 377.0,394.93 378.5,395.11 380.0,395.27 381.5,395.42 383.0,395.55 384.5,395.68 386.0,395.79 387.5,395.89 389.0,395.99 390.5,396.09 392.0,396.17 393.5,396.26 395.0,396.34 396.5,396.41 398.0,396.48 399.5,396.55 401.0,396.61 402.5,396.66 404.0,396.70 405.5,396.74 407.0,396.77 408.5,396.80 410.0,396.81 411.5,396.82 413.0,396.82 414.5,396.81 416.0,396.79 417.5,396.76 419.0,396.72 420.5,396.67 422.0,396.61 423.5,396.54 425.0,396.45 426.5,396.36 428.0,396.25 429.5,396.13 431.0,396.00 432.5,395.85 434.0,395.70 435.5,395.52 437.0,395.34 438.5,395.14 440.0,394.92 441.5,394.69 443.0,394.44 444.5,394.18 446.0,393.91 447.5,393.61 449.0,393.30 450.5,392.97 452.0,392.63 453.5,392.27 455.0,391.89 456.5,391.49 458.0,391.08 459.5,390.65 461.0,390.20 462.5,389.73 464.0,389.24 465.5,388.73 467.0,388.20 468.5,387.65 470.0,387.08 471.5,386.49 473.0,385.89 474.5,385.26 476.0,384.63 477.5,383.98 479.0,383.32 480.5,382.66 482.0,381.99 483.5,381.32 485.0,380.65 486.5,379.98 488.0,379.32 489.5,378.66 491.0,378.01 492.5,377.38 494.0,376.75 495.5,376.12 497.0,375.51 498.5,374.90 500.0,374.29 501.5,373.69 503.0,373.09 504.5,372.49 506.0,371.89 507.5,371.30 509.0,370.70 510.5,370.11 512.0,369.50 513.5,368.90 515.0,368.29 516.5,367.68 518.0,367.06 519.5,366.44 521.0,365.80 522.5,365.16 524.0,364.51 525.5,363.85 527.0,363.17 528.5,362.49 530.0,361.79 531.5,361.08 533.0,360.35 534.5,359.60 536.0,358.84 537.5,358.07 539.0,357.27 539.5,357.00" fill="none" stroke="#2a8ad4" stroke-width="1.75" stroke-linejoin="round" stroke-linecap="round"/>
<path d="M224.0,357.00 225.5,357.00 227.0,357.23 228.5,357.40 230.0,357.60 231.5,357.83 233.0,358.08 234.5,358.35 236.0,358.62 237.5,358.88 239.0,359.15 240.5,359.40 242.0,359.62 243.5,359.82 245.0,360.00 246.5,360.15 248.0,360.29 249.5,360.41 251.0,360.51 252.5,360.61 254.0,360.69 255.5,360.78 257.0,360.86 258.5,360.94 260.0,361.02 261.5,361.11 263.0,361.22 264.5,361.33 266.0,361.46 267.5,361.61 269.0,361.77 270.5,361.96 272.0,362.18 273.5,362.42 275.0,362.68 276.5,362.95 278.0,363.24 279.5,363.54 281.0,363.85 282.5,364.16 284.0,364.48 285.5,364.80 287.0,365.11 288.5,365.42 290.0,365.73 291.5,366.02 293.0,366.30 294.5,366.57 296.0,366.84 297.5,367.09 299.0,367.33 300.5,367.57 302.0,367.80 303.5,368.02 305.0,368.23 306.5,368.43 308.0,368.63 309.5,368.82 311.0,369.01 312.5,369.19 314.0,369.36 315.5,369.53 317.0,369.69 318.5,369.85 320.0,370.01 321.5,370.16 323.0,370.30 324.5,370.45 326.0,370.59 327.5,370.72 329.0,370.86 330.5,370.99 332.0,371.12 333.5,371.25 335.0,371.38 336.5,371.51 338.0,371.64 339.5,371.77 341.0,371.89 342.5,372.02 344.0,372.15 345.5,372.28 347.0,372.40 348.5,372.53 350.0,372.66 351.5,372.79 353.0,372.91 354.5,373.04 356.0,373.16 357.5,373.28 359.0,373.41 360.5,373.53 362.0,373.65 363.5,373.76 365.0,373.88 366.5,373.99 368.0,374.11 369.5,374.22 371.0,374.32 372.5,374.43 374.0,374.53 375.5,374.63 377.0,374.73 378.5,374.83 380.0,374.92 381.5,375.01 383.0,375.10 384.5,375.18 386.0,375.26 387.5,375.33 389.0,375.41 390.5,375.47 392.0,375.54 393.5,375.60 395.0,375.66 396.5,375.71 398.0,375.75 399.5,375.80 401.0,375.83 402.5,375.87 404.0,375.90 405.5,375.92 407.0,375.94 408.5,375.95 410.0,375.96 411.5,375.96 413.0,375.95 414.5,375.94 416.0,375.93 417.5,375.91 419.0,375.88 420.5,375.84 422.0,375.80 423.5,375.75 425.0,375.70 426.5,375.64 428.0,375.57 429.5,375.49 431.0,375.41 432.5,375.32 434.0,375.22 435.5,375.12 437.0,375.00 438.5,374.88 440.0,374.75 441.5,374.61 443.0,374.47 444.5,374.32 446.0,374.16 447.5,373.99 449.0,373.81 450.5,373.63 452.0,373.44 453.5,373.25 455.0,373.04 456.5,372.84 458.0,372.62 459.5,372.40 461.0,372.17 462.5,371.94 464.0,371.71 465.5,371.46 467.0,371.22 468.5,370.96 470.0,370.71 471.5,370.45 473.0,370.18 474.5,369.91 476.0,369.64 477.5,369.36 479.0,369.08 480.5,368.80 482.0,368.51 483.5,368.22 485.0,367.93 486.5,367.63 488.0,367.33 489.5,367.03 491.0,366.73 492.5,366.43 494.0,366.12 495.5,365.81 497.0,365.50 498.5,365.19 500.0,364.88 501.5,364.57 503.0,364.26 504.5,363.95 506.0,363.64 507.5,363.32 509.0,363.01 510.5,362.70 512.0,362.39 513.5,362.08 515.0,361.77 516.5,361.46 518.0,361.15 519.5,360.84 521.0,360.54 522.5,360.24 524.0,359.94 525.5,359.64 527.0,359.34 528.5,359.05 530.0,358.76 531.5,358.47 533.0,358.18 534.5,357.90 536.0,357.62 537.5,357.35 539.0,357.08 539.5,357.00" fill="none" stroke="#1e1cae" stroke-width="1.75" stroke-linejoin="round" stroke-linecap="round"/>
<path d="M224.0,357.00 225.5,357.00 227.0,357.15 228.5,357.21 230.0,357.29 231.5,357.37 233.0,357.46 234.5,357.56 236.0,357.66 237.5,357.77 239.0,357.88 240.5,357.99 242.0,358.10 243.5,358.22 245.0,358.34 246.5,358.46 248.0,358.58 249.5,358.71 251.0,358.84 252.5,358.97 254.0,359.11 255.5,359.26 257.0,359.41 258.5,359.57 260.0,359.74 261.5,359.92 263.0,360.10 264.5,360.30 266.0,360.50 267.5,360.73 269.0,360.96 270.5,361.22 272.0,361.50 273.5,361.79 275.0,362.11 276.5,362.45 278.0,362.81 279.5,363.19 281.0,363.60 282.5,364.03 284.0,364.49 285.5,364.97 287.0,365.47 288.5,366.01 290.0,366.57 291.5,367.16 293.0,367.77 294.5,368.41 296.0,369.07 297.5,369.74 299.0,370.43 300.5,371.14 302.0,371.85 303.5,372.57 305.0,373.30 306.5,374.03 308.0,374.76 309.5,375.49 311.0,376.22 312.5,376.94 314.0,377.64 315.5,378.34 317.0,379.02 318.5,379.69 320.0,380.33 321.5,380.96 323.0,381.56 324.5,382.15 326.0,382.71 327.5,383.27 329.0,383.80 330.5,384.33 332.0,384.84 333.5,385.35 335.0,385.85 336.5,386.34 338.0,386.82 339.5,387.30 341.0,387.78 342.5,388.26 344.0,388.74 345.5,389.21 347.0,389.68 348.5,390.15 350.0,390.61 351.5,391.07 353.0,391.52 354.5,391.97 356.0,392.41 357.5,392.85 359.0,393.27 360.5,393.69 362.0,394.10 363.5,394.50 365.0,394.89 366.5,395.27 368.0,395.64 369.5,396.00 371.0,396.34 372.5,396.68 374.0,397.00 375.5,397.31 377.0,397.61 378.5,397.90 380.0,398.17 381.5,398.44 383.0,398.69 384.5,398.93 386.0,399.16 387.5,399.38 389.0,399.58 390.5,399.78 392.0,399.96 393.5,400.14 395.0,400.30 396.5,400.45 398.0,400.58 399.5,400.71 401.0,400.82 402.5,400.92 404.0,401.00 405.5,401.07 407.0,401.13 408.5,401.18 410.0,401.21 411.5,401.22 413.0,401.23 414.5,401.21 416.0,401.18 417.5,401.14 419.0,401.08 420.5,401.01 422.0,400.92 423.5,400.81 425.0,400.69 426.5,400.55 428.0,400.40 429.5,400.23 431.0,400.04 432.5,399.83 434.0,399.61 435.5,399.36 437.0,399.10 438.5,398.82 440.0,398.53 441.5,398.21 443.0,397.88 444.5,397.52 446.0,397.15 447.5,396.76 449.0,396.35 450.5,395.92 452.0,395.48 453.5,395.01 455.0,394.53 456.5,394.02 458.0,393.50 459.5,392.96 461.0,392.40 462.5,391.82 464.0,391.23 465.5,390.61 467.0,389.98 468.5,389.32 470.0,388.65 471.5,387.96 473.0,387.26 474.5,386.54 476.0,385.80 477.5,385.06 479.0,384.32 480.5,383.57 482.0,382.81 483.5,382.06 485.0,381.31 486.5,380.57 488.0,379.83 489.5,379.10 491.0,378.39 492.5,377.68 494.0,376.99 495.5,376.32 497.0,375.65 498.5,374.99 500.0,374.33 501.5,373.69 503.0,373.05 504.5,372.42 506.0,371.79 507.5,371.16 509.0,370.54 510.5,369.92 512.0,369.30 513.5,368.68 515.0,368.06 516.5,367.44 518.0,366.81 519.5,366.18 521.0,365.55 522.5,364.91 524.0,364.27 525.5,363.61 527.0,362.95 528.5,362.28 530.0,361.60 531.5,360.91 533.0,360.21 534.5,359.49 536.0,358.76 537.5,358.02 539.0,357.26 539.5,357.00" fill="none" stroke="#1a9630" stroke-width="1.75" stroke-linejoin="round" stroke-linecap="round"/>
<path d="M224.0,357.00 225.5,357.00 227.0,356.95 228.5,356.95 230.0,356.94 231.5,356.93 233.0,356.92 234.5,356.91 236.0,356.90 237.5,356.90 239.0,356.89 240.5,356.88 242.0,356.87 243.5,356.86 245.0,356.85 246.5,356.84 248.0,356.84 249.5,356.84 251.0,356.85 252.5,356.86 254.0,356.87 255.5,356.90 257.0,356.93 258.5,356.97 260.0,357.02 261.5,357.08 263.0,357.16 264.5,357.25 266.0,357.35 267.5,357.47 269.0,357.60 270.5,357.75 272.0,357.92 273.5,358.10 275.0,358.31 276.5,358.54 278.0,358.78 279.5,359.05 281.0,359.35 282.5,359.67 284.0,360.01 285.5,360.38 287.0,360.78 288.5,361.20 290.0,361.66 291.5,362.14 293.0,362.65 294.5,363.19 296.0,363.75 297.5,364.34 299.0,364.95 300.5,365.57 302.0,366.21 303.5,366.87 305.0,367.54 306.5,368.22 308.0,368.92 309.5,369.62 311.0,370.32 312.5,371.03 314.0,371.75 315.5,372.46 317.0,373.17 318.5,373.88 320.0,374.58 321.5,375.28 323.0,375.97 324.5,376.65 326.0,377.33 327.5,378.00 329.0,378.66 330.5,379.32 332.0,379.97 333.5,380.61 335.0,381.25 336.5,381.88 338.0,382.51 339.5,383.13 341.0,383.75 342.5,384.36 344.0,384.96 345.5,385.56 347.0,386.15 348.5,386.74 350.0,387.32 351.5,387.89 353.0,388.45 354.5,389.00 356.0,389.55 357.5,390.09 359.0,390.61 360.5,391.13 362.0,391.64 363.5,392.14 365.0,392.63 366.5,393.11 368.0,393.57 369.5,394.03 371.0,394.47 372.5,394.90 374.0,395.32 375.5,395.73 377.0,396.12 378.5,396.50 380.0,396.87 381.5,397.23 383.0,397.56 384.5,397.89 386.0,398.20 387.5,398.49 389.0,398.77 390.5,399.04 392.0,399.28 393.5,399.52 395.0,399.73 396.5,399.93 398.0,400.11 399.5,400.28 401.0,400.43 402.5,400.56 404.0,400.68 405.5,400.78 407.0,400.86 408.5,400.93 410.0,400.97 411.5,401.00 413.0,401.02 414.5,401.01 416.0,400.99 417.5,400.96 419.0,400.90 420.5,400.82 422.0,400.73 423.5,400.62 425.0,400.49 426.5,400.35 428.0,400.18 429.5,400.00 431.0,399.80 432.5,399.58 434.0,399.34 435.5,399.09 437.0,398.81 438.5,398.51 440.0,398.20 441.5,397.87 443.0,397.52 444.5,397.15 446.0,396.76 447.5,396.35 449.0,395.93 450.5,395.48 452.0,395.02 453.5,394.55 455.0,394.05 456.5,393.54 458.0,393.01 459.5,392.47 461.0,391.90 462.5,391.33 464.0,390.73 465.5,390.13 467.0,389.50 468.5,388.86 470.0,388.21 471.5,387.54 473.0,386.86 474.5,386.17 476.0,385.46 477.5,384.75 479.0,384.04 480.5,383.32 482.0,382.59 483.5,381.87 485.0,381.15 486.5,380.42 488.0,379.71 489.5,379.00 491.0,378.30 492.5,377.60 494.0,376.92 495.5,376.24 497.0,375.56 498.5,374.90 500.0,374.24 501.5,373.58 503.0,372.93 504.5,372.28 506.0,371.63 507.5,370.99 509.0,370.35 510.5,369.71 512.0,369.08 513.5,368.44 515.0,367.81 516.5,367.17 518.0,366.53 519.5,365.90 521.0,365.26 522.5,364.61 524.0,363.97 525.5,363.32 527.0,362.67 528.5,362.01 530.0,361.35 531.5,360.68 533.0,360.01 534.5,359.33 536.0,358.64 537.5,357.94 539.0,357.24 539.5,357.00" fill="none" stroke="#e88a32" stroke-width="1.75" stroke-linejoin="round" stroke-linecap="round"/>
<path d="M118.0,357.00 224.0,357.00 225.5,357.00 227.0,356.74 228.5,356.62 230.0,356.48 231.5,356.32 233.0,356.15 234.5,355.98 236.0,355.79 237.5,355.60 239.0,355.39 240.5,355.19 242.0,354.98 243.5,354.77 245.0,354.56 246.5,354.35 248.0,354.14 249.5,353.93 251.0,353.73 252.5,353.53 254.0,353.34 255.5,353.16 257.0,352.99 258.5,352.83 260.0,352.67 261.5,352.54 263.0,352.41 264.5,352.30 266.0,352.21 267.5,352.13 269.0,352.07 270.5,352.03 272.0,352.01 273.5,352.01 275.0,352.04 276.5,352.09 278.0,352.17 279.5,352.27 281.0,352.40 282.5,352.56 284.0,352.75 285.5,352.97 287.0,353.23 288.5,353.52 290.0,353.84 291.5,354.20 293.0,354.59 294.5,355.02 296.0,355.48 297.5,355.97 299.0,356.49 300.5,357.03 302.0,357.60 303.5,358.20 305.0,358.82 306.5,359.46 308.0,360.12 309.5,360.81 311.0,361.50 312.5,362.22 314.0,362.95 315.5,363.69 317.0,364.45 318.5,365.21 320.0,365.99 321.5,366.77 323.0,367.56 324.5,368.35 326.0,369.15 327.5,369.95 329.0,370.74 330.5,371.54 332.0,372.34 333.5,373.13 335.0,373.91 336.5,374.69 338.0,375.46 339.5,376.23 341.0,376.98 342.5,377.72 344.0,378.44 345.5,379.16 347.0,379.86 348.5,380.56 350.0,381.24 351.5,381.90 353.0,382.56 354.5,383.20 356.0,383.83 357.5,384.45 359.0,385.06 360.5,385.65 362.0,386.23 363.5,386.80 365.0,387.35 366.5,387.89 368.0,388.42 369.5,388.93 371.0,389.43 372.5,389.92 374.0,390.39 375.5,390.85 377.0,391.29 378.5,391.72 380.0,392.14 381.5,392.54 383.0,392.93 384.5,393.30 386.0,393.66 387.5,394.00 389.0,394.33 390.5,394.65 392.0,394.95 393.5,395.23 395.0,395.50 396.5,395.75 398.0,395.99 399.5,396.21 401.0,396.42 402.5,396.61 404.0,396.78 405.5,396.94 407.0,397.09 408.5,397.21 410.0,397.32 411.5,397.42 413.0,397.49 414.5,397.55 416.0,397.60 417.5,397.63 419.0,397.64 420.5,397.63 422.0,397.60 423.5,397.56 425.0,397.50 426.5,397.43 428.0,397.33 429.5,397.22 431.0,397.09 432.5,396.94 434.0,396.78 435.5,396.60 437.0,396.39 438.5,396.17 440.0,395.93 441.5,395.68 443.0,395.40 444.5,395.10 446.0,394.79 447.5,394.45 449.0,394.09 450.5,393.70 452.0,393.30 453.5,392.87 455.0,392.41 456.5,391.93 458.0,391.43 459.5,390.89 461.0,390.33 462.5,389.74 464.0,389.13 465.5,388.50 467.0,387.85 468.5,387.18 470.0,386.50 471.5,385.80 473.0,385.10 474.5,384.38 476.0,383.66 477.5,382.93 479.0,382.20 480.5,381.46 482.0,380.73 483.5,379.99 485.0,379.26 486.5,378.53 488.0,377.81 489.5,377.10 491.0,376.39 492.5,375.70 494.0,375.01 495.5,374.33 497.0,373.66 498.5,373.00 500.0,372.34 501.5,371.70 503.0,371.06 504.5,370.43 506.0,369.80 507.5,369.18 509.0,368.57 510.5,367.97 512.0,367.36 513.5,366.77 515.0,366.18 516.5,365.59 518.0,365.01 519.5,364.43 521.0,363.86 522.5,363.29 524.0,362.73 525.5,362.16 527.0,361.60 528.5,361.04 530.0,360.49 531.5,359.93 533.0,359.38 534.5,358.83 536.0,358.28 537.5,357.73 539.0,357.18 539.5,357.00" fill="none" stroke="#cc2024" stroke-width="1.75" stroke-linejoin="round" stroke-linecap="round"/>
<text transform="translate(58.73,541.35) scale(1.170,1)" font-family='"Liberation Serif",serif' font-size="25.80">200</text>
<g transform="translate(58.73,583.97) scale(1.170,1)" font-family='"Liberation Serif",serif' font-size="25.80"><text transform="translate(6.45,0) scale(0.72,1) translate(-6.45,0)">1</text><text x="12.90">0</text><text x="25.80">0</text></g>
<text transform="translate(88.91,626.60) scale(1.170,1)" font-family='"Liberation Serif",serif' font-size="25.80">0</text>
<g transform="translate(58.73,669.22) scale(1.170,1)" font-family='"Liberation Serif",serif' font-size="25.80"><text transform="translate(6.45,0) scale(0.72,1) translate(-6.45,0)">1</text><text x="12.90">0</text><text x="25.80">0</text></g>
<path d="M41.3,661.47H54.9" stroke="#000" stroke-width="1.6"/>
<text transform="translate(58.73,711.85) scale(1.170,1)" font-family='"Liberation Serif",serif' font-size="25.80">200</text>
<path d="M41.3,704.10H54.9" stroke="#000" stroke-width="1.6"/>
<text transform="translate(121.53,734.26) scale(1.170,1)" font-family='"Liberation Serif",serif' font-size="25.80">0.5</text>
<g transform="translate(242.95,734.13) scale(1.170,1)" font-family='"Liberation Serif",serif' font-size="25.80"><text transform="translate(6.45,0) scale(0.72,1) translate(-6.45,0)">1</text></g>
<g transform="translate(341.80,734.13) scale(1.170,1)" font-family='"Liberation Serif",serif' font-size="25.80"><text transform="translate(6.45,0) scale(0.72,1) translate(-6.45,0)">1</text><text x="12.90">.</text><text x="19.35">5</text></g>
<text transform="translate(464.43,734.13) scale(1.170,1)" font-family='"Liberation Serif",serif' font-size="25.80">2</text>
<text transform="translate(563.36,734.13) scale(1.170,1)" font-family='"Liberation Serif",serif' font-size="25.80">2.5</text>
<text transform="translate(307.45,758.20) scale(1.070,1)" font-family='"Liberation Serif",serif' font-size="26.00">g</text>
<text transform="translate(342.27,758.20) scale(1.100,1)" font-family='"Liberation Serif",serif' font-size="26.00">−</text>
<text transform="translate(380.13,758.20) scale(1.036,1)" font-family='"Liberation Serif",serif' font-size="26.00">z</text>
<text transform="translate(17.30,643.30) rotate(-90) scale(1.010,1)" font-family='"Liberation Serif",serif' font-size="24.70">Δ</text>
<text transform="translate(17.30,628.07) rotate(-90) scale(0.943,1)" font-family='"Liberation Serif",serif' font-size="24.89">T</text>
<text transform="translate(24.75,613.76) rotate(-90) scale(1.222,1)" font-family='"Liberation Serif",serif' font-size="15.38" font-weight="bold">eff</text>
<text transform="translate(160.68,564.80) scale(1.065,1)" font-family='"Liberation Serif",serif' font-size="19.85" font-style="italic" stroke="#000" stroke-width="0.4">5500 K</text>
<path d="M190.70,571.00V587.50" stroke="#000" stroke-width="1.6" stroke-linecap="round"/>
<text transform="translate(248.68,564.80) scale(1.065,1)" font-family='"Liberation Serif",serif' font-size="19.85" font-style="italic" stroke="#000" stroke-width="0.4">5000 K</text>
<path d="M266.70,571.00V587.50" stroke="#000" stroke-width="1.6" stroke-linecap="round"/>
<text transform="translate(359.89,564.80) scale(1.065,1)" font-family='"Liberation Serif",serif' font-size="19.85" font-style="italic" stroke="#000" stroke-width="0.4">4500 K</text>
<path d="M382.70,571.00V587.50" stroke="#000" stroke-width="1.6" stroke-linecap="round"/>
<text transform="translate(492.59,564.80) scale(1.065,1)" font-family='"Liberation Serif",serif' font-size="19.85" font-style="italic" stroke="#000" stroke-width="0.4">4000 K</text>
<path d="M532.40,571.00V587.50" stroke="#000" stroke-width="1.6" stroke-linecap="round"/>
<path d="M220.0,617.80 221.5,617.80 223.0,617.97 224.5,618.07 226.0,618.19 227.5,618.32 229.0,618.47 230.5,618.63 232.0,618.80 233.5,618.98 235.0,619.17 236.5,619.36 238.0,619.56 239.5,619.76 241.0,619.96 242.5,620.17 244.0,620.37 245.5,620.56 247.0,620.75 248.5,620.94 250.0,621.11 251.5,621.28 253.0,621.44 254.5,621.60 256.0,621.75 257.5,621.91 259.0,622.08 260.5,622.26 262.0,622.45 263.5,622.65 265.0,622.87 266.5,623.10 268.0,623.35 269.5,623.62 271.0,623.90 272.5,624.19 274.0,624.51 275.5,624.84 277.0,625.19 278.5,625.56 280.0,625.96 281.5,626.37 283.0,626.80 284.5,627.24 286.0,627.70 287.5,628.17 289.0,628.64 290.5,629.12 292.0,629.61 293.5,630.09 295.0,630.58 296.5,631.05 298.0,631.53 299.5,631.99 301.0,632.44 302.5,632.87 304.0,633.29 305.5,633.69 307.0,634.07 308.5,634.42 310.0,634.75 311.5,635.05 313.0,635.32 314.5,635.57 316.0,635.79 317.5,636.00 319.0,636.19 320.5,636.36 322.0,636.52 323.5,636.68 325.0,636.82 326.5,636.97 328.0,637.11 329.5,637.25 331.0,637.39 332.5,637.54 334.0,637.69 335.5,637.85 337.0,638.00 338.5,638.16 340.0,638.33 341.5,638.49 343.0,638.66 344.5,638.83 346.0,639.00 347.5,639.18 349.0,639.35 350.5,639.52 352.0,639.70 353.5,639.87 355.0,640.05 356.5,640.23 358.0,640.40 359.5,640.58 361.0,640.75 362.5,640.92 364.0,641.10 365.5,641.27 367.0,641.43 368.5,641.60 370.0,641.76 371.5,641.92 373.0,642.08 374.5,642.24 376.0,642.39 377.5,642.54 379.0,642.68 380.5,642.82 382.0,642.96 383.5,643.09 385.0,643.22 386.5,643.34 388.0,643.46 389.5,643.57 391.0,643.67 392.5,643.77 394.0,643.86 395.5,643.95 397.0,644.02 398.5,644.10 400.0,644.16 401.5,644.21 403.0,644.26 404.5,644.30 406.0,644.32 407.5,644.34 409.0,644.35 410.5,644.36 412.0,644.35 413.5,644.33 415.0,644.30 416.5,644.25 418.0,644.20 419.5,644.14 421.0,644.06 422.5,643.98 424.0,643.88 425.5,643.76 427.0,643.64 428.5,643.50 430.0,643.35 431.5,643.18 433.0,643.00 434.5,642.81 436.0,642.60 437.5,642.38 439.0,642.14 440.5,641.89 442.0,641.62 443.5,641.34 445.0,641.04 446.5,640.73 448.0,640.41 449.5,640.09 451.0,639.75 452.5,639.40 454.0,639.05 455.5,638.69 457.0,638.33 458.5,637.96 460.0,637.59 461.5,637.22 463.0,636.85 464.5,636.48 466.0,636.11 467.5,635.75 469.0,635.38 470.5,635.03 472.0,634.67 473.5,634.32 475.0,633.97 476.5,633.62 478.0,633.27 479.5,632.91 481.0,632.54 482.5,632.16 484.0,631.76 485.5,631.36 487.0,630.94 488.5,630.50 490.0,630.05 491.5,629.60 493.0,629.13 494.5,628.66 496.0,628.18 497.5,627.71 499.0,627.23 500.5,626.75 502.0,626.27 503.5,625.80 505.0,625.33 506.5,624.88 508.0,624.43 509.5,623.99 511.0,623.57 512.5,623.17 514.0,622.78 515.5,622.41 517.0,622.05 518.5,621.71 520.0,621.36 521.5,621.01 523.0,620.64 524.5,620.25 526.0,619.81 527.5,619.34 529.0,618.82 530.5,618.23 531.5,617.80" fill="none" stroke="#34c0d8" stroke-width="1.75" stroke-linejoin="round" stroke-linecap="round"/>
<path d="M220.0,617.80 221.5,617.80 223.0,617.99 224.5,618.10 226.0,618.22 227.5,618.36 229.0,618.52 230.5,618.69 232.0,618.88 233.5,619.07 235.0,619.27 236.5,619.48 238.0,619.70 239.5,619.92 241.0,620.14 242.5,620.37 244.0,620.59 245.5,620.81 247.0,621.03 248.5,621.24 250.0,621.45 251.5,621.65 253.0,621.84 254.5,622.03 256.0,622.22 257.5,622.41 259.0,622.60 260.5,622.80 262.0,623.01 263.5,623.23 265.0,623.46 266.5,623.69 268.0,623.94 269.5,624.20 271.0,624.48 272.5,624.77 274.0,625.07 275.5,625.39 277.0,625.73 278.5,626.09 280.0,626.46 281.5,626.85 283.0,627.26 284.5,627.69 286.0,628.13 287.5,628.59 289.0,629.05 290.5,629.53 292.0,630.01 293.5,630.50 295.0,630.99 296.5,631.48 298.0,631.97 299.5,632.46 301.0,632.95 302.5,633.44 304.0,633.91 305.5,634.38 307.0,634.84 308.5,635.28 310.0,635.71 311.5,636.13 313.0,636.53 314.5,636.91 316.0,637.29 317.5,637.65 319.0,638.01 320.5,638.35 322.0,638.69 323.5,639.01 325.0,639.34 326.5,639.66 328.0,639.97 329.5,640.28 331.0,640.59 332.5,640.90 334.0,641.21 335.5,641.51 337.0,641.82 338.5,642.12 340.0,642.42 341.5,642.72 343.0,643.01 344.5,643.30 346.0,643.59 347.5,643.88 349.0,644.16 350.5,644.44 352.0,644.72 353.5,644.99 355.0,645.26 356.5,645.52 358.0,645.78 359.5,646.03 361.0,646.28 362.5,646.53 364.0,646.77 365.5,647.00 367.0,647.23 368.5,647.46 370.0,647.67 371.5,647.89 373.0,648.09 374.5,648.29 376.0,648.48 377.5,648.67 379.0,648.85 380.5,649.02 382.0,649.18 383.5,649.34 385.0,649.49 386.5,649.63 388.0,649.77 389.5,649.89 391.0,650.01 392.5,650.12 394.0,650.22 395.5,650.31 397.0,650.39 398.5,650.46 400.0,650.52 401.5,650.58 403.0,650.62 404.5,650.65 406.0,650.68 407.5,650.69 409.0,650.69 410.5,650.68 412.0,650.66 413.5,650.63 415.0,650.59 416.5,650.54 418.0,650.47 419.5,650.39 421.0,650.30 422.5,650.20 424.0,650.09 425.5,649.96 427.0,649.82 428.5,649.67 430.0,649.51 431.5,649.33 433.0,649.14 434.5,648.93 436.0,648.71 437.5,648.48 439.0,648.23 440.5,647.97 442.0,647.69 443.5,647.40 445.0,647.10 446.5,646.78 448.0,646.45 449.5,646.10 451.0,645.75 452.5,645.38 454.0,645.00 455.5,644.61 457.0,644.20 458.5,643.79 460.0,643.36 461.5,642.93 463.0,642.48 464.5,642.03 466.0,641.56 467.5,641.09 469.0,640.60 470.5,640.11 472.0,639.61 473.5,639.11 475.0,638.59 476.5,638.07 478.0,637.54 479.5,637.00 481.0,636.46 482.5,635.91 484.0,635.36 485.5,634.80 487.0,634.23 488.5,633.66 490.0,633.09 491.5,632.52 493.0,631.94 494.5,631.37 496.0,630.79 497.5,630.21 499.0,629.64 500.5,629.07 502.0,628.50 503.5,627.93 505.0,627.37 506.5,626.82 508.0,626.27 509.5,625.73 511.0,625.20 512.5,624.68 514.0,624.17 515.5,623.67 517.0,623.17 518.5,622.68 520.0,622.19 521.5,621.70 523.0,621.19 524.5,620.66 526.0,620.11 527.5,619.53 529.0,618.92 530.5,618.27 531.5,617.80" fill="none" stroke="#2a8ad4" stroke-width="1.75" stroke-linejoin="round" stroke-linecap="round"/>
<path d="M220.0,617.80 221.5,617.80 223.0,617.93 224.5,617.98 226.0,618.04 227.5,618.10 229.0,618.16 230.5,618.24 232.0,618.32 233.5,618.40 235.0,618.49 236.5,618.59 238.0,618.69 239.5,618.80 241.0,618.92 242.5,619.04 244.0,619.16 245.5,619.29 247.0,619.43 248.5,619.57 250.0,619.72 251.5,619.87 253.0,620.03 254.5,620.19 256.0,620.36 257.5,620.53 259.0,620.71 260.5,620.89 262.0,621.07 263.5,621.26 265.0,621.46 266.5,621.65 268.0,621.86 269.5,622.06 271.0,622.27 272.5,622.48 274.0,622.70 275.5,622.91 277.0,623.13 278.5,623.36 280.0,623.58 281.5,623.81 283.0,624.03 284.5,624.26 286.0,624.49 287.5,624.72 289.0,624.95 290.5,625.17 292.0,625.40 293.5,625.62 295.0,625.84 296.5,626.05 298.0,626.26 299.5,626.47 301.0,626.67 302.5,626.87 304.0,627.06 305.5,627.24 307.0,627.42 308.5,627.58 310.0,627.74 311.5,627.89 313.0,628.03 314.5,628.17 316.0,628.30 317.5,628.42 319.0,628.53 320.5,628.65 322.0,628.75 323.5,628.86 325.0,628.96 326.5,629.07 328.0,629.17 329.5,629.27 331.0,629.37 332.5,629.47 334.0,629.58 335.5,629.68 337.0,629.79 338.5,629.89 340.0,630.00 341.5,630.10 343.0,630.21 344.5,630.32 346.0,630.42 347.5,630.53 349.0,630.64 350.5,630.74 352.0,630.85 353.5,630.95 355.0,631.05 356.5,631.16 358.0,631.26 359.5,631.36 361.0,631.45 362.5,631.55 364.0,631.65 365.5,631.74 367.0,631.83 368.5,631.92 370.0,632.01 371.5,632.10 373.0,632.18 374.5,632.26 376.0,632.34 377.5,632.41 379.0,632.49 380.5,632.56 382.0,632.62 383.5,632.69 385.0,632.75 386.5,632.80 388.0,632.85 389.5,632.90 391.0,632.95 392.5,632.99 394.0,633.03 395.5,633.06 397.0,633.09 398.5,633.11 400.0,633.13 401.5,633.15 403.0,633.16 404.5,633.17 406.0,633.17 407.5,633.16 409.0,633.15 410.5,633.13 412.0,633.11 413.5,633.09 415.0,633.05 416.5,633.01 418.0,632.97 419.5,632.92 421.0,632.86 422.5,632.80 424.0,632.73 425.5,632.65 427.0,632.57 428.5,632.48 430.0,632.38 431.5,632.27 433.0,632.16 434.5,632.04 436.0,631.91 437.5,631.78 439.0,631.64 440.5,631.49 442.0,631.33 443.5,631.16 445.0,630.99 446.5,630.81 448.0,630.62 449.5,630.43 451.0,630.23 452.5,630.02 454.0,629.81 455.5,629.60 457.0,629.38 458.5,629.16 460.0,628.93 461.5,628.70 463.0,628.46 464.5,628.23 466.0,627.99 467.5,627.75 469.0,627.50 470.5,627.26 472.0,627.01 473.5,626.76 475.0,626.51 476.5,626.26 478.0,626.01 479.5,625.77 481.0,625.52 482.5,625.27 484.0,625.03 485.5,624.78 487.0,624.54 488.5,624.30 490.0,624.06 491.5,623.83 493.0,623.59 494.5,623.36 496.0,623.13 497.5,622.89 499.0,622.66 500.5,622.44 502.0,622.21 503.5,621.98 505.0,621.75 506.5,621.53 508.0,621.30 509.5,621.08 511.0,620.86 512.5,620.63 514.0,620.41 515.5,620.19 517.0,619.97 518.5,619.74 520.0,619.52 521.5,619.30 523.0,619.07 524.5,618.85 526.0,618.63 527.5,618.40 529.0,618.18 530.5,617.95 531.5,617.80" fill="none" stroke="#1e1cae" stroke-width="1.75" stroke-linejoin="round" stroke-linecap="round"/>
<path d="M220.0,617.80 221.5,617.80 223.0,617.88 224.5,617.91 226.0,617.94 227.5,617.97 229.0,618.00 230.5,618.04 232.0,618.08 233.5,618.13 235.0,618.18 236.5,618.23 238.0,618.29 239.5,618.35 241.0,618.42 242.5,618.49 244.0,618.57 245.5,618.65 247.0,618.74 248.5,618.84 250.0,618.95 251.5,619.06 253.0,619.19 254.5,619.32 256.0,619.47 257.5,619.63 259.0,619.80 260.5,619.98 262.0,620.18 263.5,620.39 265.0,620.62 266.5,620.86 268.0,621.12 269.5,621.40 271.0,621.69 272.5,622.01 274.0,622.34 275.5,622.70 277.0,623.07 278.5,623.45 280.0,623.86 281.5,624.27 283.0,624.71 284.5,625.16 286.0,625.62 287.5,626.09 289.0,626.58 290.5,627.08 292.0,627.60 293.5,628.12 295.0,628.65 296.5,629.20 298.0,629.75 299.5,630.30 301.0,630.87 302.5,631.43 304.0,632.00 305.5,632.58 307.0,633.15 308.5,633.73 310.0,634.31 311.5,634.88 313.0,635.45 314.5,636.02 316.0,636.57 317.5,637.12 319.0,637.66 320.5,638.18 322.0,638.68 323.5,639.17 325.0,639.64 326.5,640.10 328.0,640.55 329.5,640.99 331.0,641.41 332.5,641.83 334.0,642.24 335.5,642.63 337.0,643.02 338.5,643.41 340.0,643.79 341.5,644.16 343.0,644.53 344.5,644.90 346.0,645.26 347.5,645.61 349.0,645.96 350.5,646.31 352.0,646.65 353.5,646.98 355.0,647.31 356.5,647.63 358.0,647.95 359.5,648.26 361.0,648.57 362.5,648.87 364.0,649.16 365.5,649.45 367.0,649.73 368.5,650.00 370.0,650.27 371.5,650.53 373.0,650.79 374.5,651.03 376.0,651.27 377.5,651.51 379.0,651.73 380.5,651.95 382.0,652.17 383.5,652.37 385.0,652.57 386.5,652.76 388.0,652.94 389.5,653.11 391.0,653.28 392.5,653.44 394.0,653.58 395.5,653.73 397.0,653.86 398.5,653.98 400.0,654.09 401.5,654.19 403.0,654.28 404.5,654.36 406.0,654.43 407.5,654.49 409.0,654.54 410.5,654.57 412.0,654.59 413.5,654.60 415.0,654.60 416.5,654.58 418.0,654.55 419.5,654.51 421.0,654.45 422.5,654.38 424.0,654.29 425.5,654.18 427.0,654.07 428.5,653.93 430.0,653.78 431.5,653.62 433.0,653.44 434.5,653.25 436.0,653.05 437.5,652.83 439.0,652.60 440.5,652.35 442.0,652.09 443.5,651.82 445.0,651.54 446.5,651.25 448.0,650.94 449.5,650.62 451.0,650.29 452.5,649.95 454.0,649.60 455.5,649.24 457.0,648.87 458.5,648.49 460.0,648.10 461.5,647.70 463.0,647.29 464.5,646.87 466.0,646.44 467.5,646.00 469.0,645.55 470.5,645.09 472.0,644.62 473.5,644.14 475.0,643.65 476.5,643.16 478.0,642.65 479.5,642.14 481.0,641.61 482.5,641.08 484.0,640.54 485.5,639.99 487.0,639.43 488.5,638.86 490.0,638.28 491.5,637.69 493.0,637.10 494.5,636.50 496.0,635.89 497.5,635.27 499.0,634.64 500.5,634.00 502.0,633.35 503.5,632.69 505.0,632.02 506.5,631.34 508.0,630.64 509.5,629.93 511.0,629.21 512.5,628.48 514.0,627.73 515.5,626.97 517.0,626.19 518.5,625.40 520.0,624.59 521.5,623.77 523.0,622.92 524.5,622.06 526.0,621.19 527.5,620.29 529.0,619.37 530.5,618.44 531.5,617.80" fill="none" stroke="#1a9630" stroke-width="1.75" stroke-linejoin="round" stroke-linecap="round"/>
<path d="M220.0,617.80 221.5,617.80 223.0,617.70 224.5,617.64 226.0,617.59 227.5,617.53 229.0,617.46 230.5,617.40 232.0,617.33 233.5,617.27 235.0,617.21 236.5,617.15 238.0,617.10 239.5,617.05 241.0,617.01 242.5,616.98 244.0,616.95 245.5,616.94 247.0,616.93 248.5,616.94 250.0,616.95 251.5,616.98 253.0,617.01 254.5,617.06 256.0,617.12 257.5,617.20 259.0,617.28 260.5,617.38 262.0,617.50 263.5,617.63 265.0,617.77 266.5,617.93 268.0,618.10 269.5,618.30 271.0,618.51 272.5,618.73 274.0,618.98 275.5,619.24 277.0,619.52 278.5,619.82 280.0,620.15 281.5,620.49 283.0,620.85 284.5,621.23 286.0,621.64 287.5,622.07 289.0,622.52 290.5,622.99 292.0,623.49 293.5,624.01 295.0,624.54 296.5,625.10 298.0,625.67 299.5,626.25 301.0,626.85 302.5,627.45 304.0,628.07 305.5,628.68 307.0,629.31 308.5,629.93 310.0,630.56 311.5,631.18 313.0,631.80 314.5,632.42 316.0,633.03 317.5,633.63 319.0,634.21 320.5,634.79 322.0,635.35 323.5,635.90 325.0,636.43 326.5,636.96 328.0,637.47 329.5,637.98 331.0,638.47 332.5,638.96 334.0,639.44 335.5,639.91 337.0,640.37 338.5,640.83 340.0,641.29 341.5,641.74 343.0,642.18 344.5,642.63 346.0,643.06 347.5,643.50 349.0,643.92 350.5,644.35 352.0,644.76 353.5,645.18 355.0,645.58 356.5,645.98 358.0,646.37 359.5,646.76 361.0,647.14 362.5,647.51 364.0,647.87 365.5,648.23 367.0,648.58 368.5,648.92 370.0,649.26 371.5,649.58 373.0,649.90 374.5,650.20 376.0,650.50 377.5,650.79 379.0,651.07 380.5,651.34 382.0,651.60 383.5,651.84 385.0,652.08 386.5,652.31 388.0,652.53 389.5,652.73 391.0,652.93 392.5,653.11 394.0,653.28 395.5,653.44 397.0,653.58 398.5,653.72 400.0,653.84 401.5,653.95 403.0,654.05 404.5,654.13 406.0,654.20 407.5,654.26 409.0,654.30 410.5,654.33 412.0,654.35 413.5,654.36 415.0,654.35 416.5,654.32 418.0,654.28 419.5,654.23 421.0,654.17 422.5,654.08 424.0,653.99 425.5,653.88 427.0,653.75 428.5,653.61 430.0,653.46 431.5,653.29 433.0,653.11 434.5,652.91 436.0,652.70 437.5,652.48 439.0,652.25 440.5,652.00 442.0,651.75 443.5,651.48 445.0,651.20 446.5,650.91 448.0,650.60 449.5,650.29 451.0,649.97 452.5,649.63 454.0,649.29 455.5,648.94 457.0,648.58 458.5,648.21 460.0,647.83 461.5,647.44 463.0,647.05 464.5,646.64 466.0,646.22 467.5,645.80 469.0,645.36 470.5,644.92 472.0,644.46 473.5,644.00 475.0,643.52 476.5,643.04 478.0,642.54 479.5,642.04 481.0,641.53 482.5,641.00 484.0,640.47 485.5,639.92 487.0,639.36 488.5,638.80 490.0,638.22 491.5,637.63 493.0,637.03 494.5,636.43 496.0,635.81 497.5,635.18 499.0,634.53 500.5,633.88 502.0,633.22 503.5,632.54 505.0,631.86 506.5,631.16 508.0,630.45 509.5,629.73 511.0,629.00 512.5,628.25 514.0,627.50 515.5,626.73 517.0,625.95 518.5,625.16 520.0,624.36 521.5,623.55 523.0,622.72 524.5,621.88 526.0,621.03 527.5,620.17 529.0,619.30 530.5,618.41 531.5,617.80" fill="none" stroke="#e88a32" stroke-width="1.75" stroke-linejoin="round" stroke-linecap="round"/>
<path d="M118.0,617.80 220.0,617.80 221.5,617.80 223.0,617.60 224.5,617.52 226.0,617.43 227.5,617.34 229.0,617.24 230.5,617.13 232.0,617.01 233.5,616.90 235.0,616.78 236.5,616.65 238.0,616.53 239.5,616.40 241.0,616.28 242.5,616.15 244.0,616.03 245.5,615.91 247.0,615.79 248.5,615.68 250.0,615.57 251.5,615.47 253.0,615.38 254.5,615.29 256.0,615.22 257.5,615.15 259.0,615.09 260.5,615.05 262.0,615.02 263.5,615.00 265.0,614.99 266.5,615.00 268.0,615.03 269.5,615.07 271.0,615.14 272.5,615.21 274.0,615.31 275.5,615.43 277.0,615.57 278.5,615.74 280.0,615.92 281.5,616.13 283.0,616.37 284.5,616.63 286.0,616.91 287.5,617.23 289.0,617.57 290.5,617.94 292.0,618.34 293.5,618.77 295.0,619.23 296.5,619.70 298.0,620.20 299.5,620.72 301.0,621.25 302.5,621.80 304.0,622.37 305.5,622.95 307.0,623.53 308.5,624.13 310.0,624.73 311.5,625.33 313.0,625.94 314.5,626.54 316.0,627.15 317.5,627.75 319.0,628.34 320.5,628.93 322.0,629.51 323.5,630.08 325.0,630.64 326.5,631.20 328.0,631.74 329.5,632.29 331.0,632.82 332.5,633.35 334.0,633.87 335.5,634.38 337.0,634.89 338.5,635.40 340.0,635.90 341.5,636.40 343.0,636.89 344.5,637.37 346.0,637.86 347.5,638.33 349.0,638.81 350.5,639.28 352.0,639.74 353.5,640.19 355.0,640.65 356.5,641.09 358.0,641.53 359.5,641.97 361.0,642.39 362.5,642.81 364.0,643.23 365.5,643.64 367.0,644.04 368.5,644.44 370.0,644.82 371.5,645.21 373.0,645.58 374.5,645.95 376.0,646.31 377.5,646.66 379.0,647.00 380.5,647.34 382.0,647.66 383.5,647.98 385.0,648.30 386.5,648.60 388.0,648.89 389.5,649.18 391.0,649.46 392.5,649.72 394.0,649.98 395.5,650.23 397.0,650.47 398.5,650.69 400.0,650.91 401.5,651.11 403.0,651.30 404.5,651.48 406.0,651.65 407.5,651.80 409.0,651.94 410.5,652.06 412.0,652.17 413.5,652.27 415.0,652.35 416.5,652.41 418.0,652.46 419.5,652.49 421.0,652.50 422.5,652.50 424.0,652.48 425.5,652.44 427.0,652.38 428.5,652.30 430.0,652.21 431.5,652.09 433.0,651.96 434.5,651.82 436.0,651.66 437.5,651.48 439.0,651.28 440.5,651.08 442.0,650.85 443.5,650.61 445.0,650.36 446.5,650.10 448.0,649.82 449.5,649.53 451.0,649.22 452.5,648.91 454.0,648.58 455.5,648.24 457.0,647.89 458.5,647.53 460.0,647.16 461.5,646.78 463.0,646.38 464.5,645.98 466.0,645.56 467.5,645.14 469.0,644.70 470.5,644.26 472.0,643.80 473.5,643.33 475.0,642.85 476.5,642.37 478.0,641.87 479.5,641.36 481.0,640.84 482.5,640.31 484.0,639.77 485.5,639.22 487.0,638.66 488.5,638.09 490.0,637.52 491.5,636.93 493.0,636.33 494.5,635.72 496.0,635.10 497.5,634.48 499.0,633.84 500.5,633.19 502.0,632.54 503.5,631.87 505.0,631.20 506.5,630.51 508.0,629.82 509.5,629.12 511.0,628.41 512.5,627.69 514.0,626.96 515.5,626.22 517.0,625.48 518.5,624.72 520.0,623.96 521.5,623.18 523.0,622.40 524.5,621.61 526.0,620.81 527.5,620.00 529.0,619.19 530.5,618.36 531.5,617.80" fill="none" stroke="#cc2024" stroke-width="1.75" stroke-linejoin="round" stroke-linecap="round"/>
</svg>
</body></html>
